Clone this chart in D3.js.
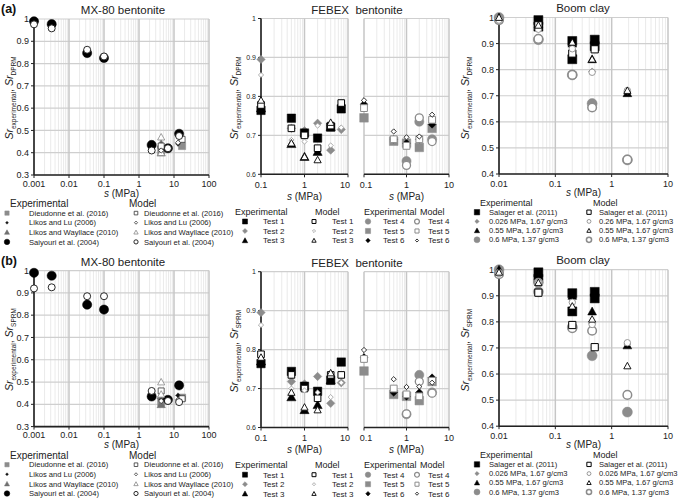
<!DOCTYPE html>
<html><head><meta charset="utf-8">
<script src="https://cdn.jsdelivr.net/npm/d3@7"></script>
<style>body{margin:0;background:#fff}svg{display:block;font-family:"Liberation Sans",Arial,sans-serif}</style>
</head><body><svg id="c" width="685" height="499"></svg>
<script>
// ===== MX-80 bentonite =====
const mxSaiyouriS = [0.001, 0.0032, 0.033, 0.1, 2.3, 6.7, 14];
const mxSaiyouriExp = [0.99, 0.977, 0.847, 0.825, 0.435, 0.42, 0.485];
const mxSaiyouriDPRM = [0.976, 0.958, 0.862, 0.832, 0.41, 0.42, 0.475];
const mxSaiyouriSPRM = [0.92, 0.925, 0.885, 0.885, 0.46, 0.415, 0.41];
const mxDieudonneS = [4.3, 17];
const mxDieudonneExp = [0.41, 0.43];
const mxDieudonneDPRM = [0.43, 0.46];
const mxDieudonneSPRM = [0.46, 0.425];
const mxLikosLuS = [4.3, 13];
const mxLikosLuExp = [0.42, 0.44];
const mxLikosLuDPRM = [0.41, 0.445];
const mxLikosLuSPRM = [0.415, 0.42];
const mxLikosWayllaceS = [4.3, 4.3];
const mxLikosWayllaceExp = [0.40, 0.44];
const mxLikosWayllaceDPRM = [0.47, 0.40];
const mxLikosWayllaceSPRM = [0.50, 0.445];

// ===== FEBEX bentonite (Tests 1-3, left) =====
const fbT1S = [0.1, 0.5, 1, 2, 4, 7];
const fbT1Exp = [0.764, 0.744, 0.706, 0.693, 0.721, 0.768];
const fbT1DPRM = [0.778, 0.718, 0.70, 0.667, 0.725, 0.783];
const fbT1SPRM = [0.788, 0.735, 0.70, 0.675, 0.735, 0.735];
const fbT2S = [0.1, 0.5, 1, 2, 4, 7];
const fbT2Exp = [0.895, 0.718, 0.712, 0.731, 0.662, 0.715];
const fbT2DPRM = [0.855, 0.688, 0.684, 0.725, 0.674, 0.72];
const fbT2SPRM = [0.863, 0.70, 0.695, 0.69, 0.678, 0.715];
const fbT3S = [0.1, 0.5, 1, 2, 4];
const fbT3Exp = [0.77, 0.678, 0.645, 0.658, 0.722];
const fbT3DPRM = [0.79, 0.68, 0.645, 0.637, 0.733];
const fbT3SPRM = [0.78, 0.69, 0.652, 0.645, 0.74];
// ===== FEBEX bentonite (Tests 4-6, right) =====
const fbT4S = [1, 2, 4];
const fbT4Exp = [0.634, 0.735, 0.69];
const fbT4DPRM = [0.623, 0.745, 0.684];
const fbT4SPRM = [0.635, 0.718, 0.688];
const fbT5S = [0.1, 0.5, 1, 2, 4];
const fbT5Exp = [0.745, 0.685, 0.68, 0.669, 0.718];
const fbT5DPRM = [0.77, 0.69, 0.673, 0.69, 0.74];
const fbT5SPRM = [0.776, 0.70, 0.685, 0.68, 0.72];
const fbT6S = [0.1, 0.5, 1, 2, 4];
const fbT6Exp = [0.78, 0.69, 0.68, 0.69, 0.728];
const fbT6DPRM = [0.79, 0.71, 0.695, 0.697, 0.753];
const fbT6SPRM = [0.799, 0.724, 0.704, 0.705, 0.715];

// ===== Boom clay =====
const bcSalagerS = [0.05, 0.05, 0.2, 0.2, 0.5, 0.5];
const bcSalagerExp = [0.99, 0.965, 0.91, 0.84, 0.915, 0.89];
const bcSalagerDPRM = [0.97, null, 0.862, null, 0.878, null];
const bcSalagerSPRM = [0.912, null, 0.788, null, 0.703, null];
const bc026S = [0.01, 0.05, 0.2, 0.45, 1.9];
const bc026Exp = [1.0, 0.965, 0.89, 0.793, 0.715];
const bc026DPRM = [0.99, 0.955, 0.88, 0.79, 0.72];
const bc026SPRM = [0.985, 0.95, 0.875, 0.79, 0.72];
const bc055S = [0.01, 0.05, 0.2, 0.45, 1.9];
const bc055Exp = [1.0, 0.975, 0.9, 0.84, 0.71];
const bc055DPRM = [1.0, 0.97, 0.905, 0.84, 0.72];
const bc055SPRM = [0.99, 0.95, 0.86, 0.81, 0.631];
const bc06S = [0.01, 0.05, 0.2, 0.45, 1.9];
const bc06Exp = [1.0, 0.915, 0.78, 0.67, 0.454];
const bc06DPRM = [0.99, 0.918, 0.78, 0.655, 0.455];
const bc06SPRM = [0.983, 0.95, 0.776, 0.766, 0.52];

// ===== labels =====
const mxXTicks = [0.001, 0.01, 0.1, 1, 10, 100];
const mxXTickLabels = ["0.001", "0.01", "0.1", "1", "10", "100"];
const mxYTicks = [0.3, 0.4, 0.5, 0.6, 0.7, 0.8, 0.9, 1];
const fbXTicks = [0.1, 1, 10];
const fbXTickLabels = ["0.1", "1", "10"];
const fbYTicks = [0.6, 0.7, 0.8, 0.9, 1];
const bcXTicks = [0.01, 0.1, 1, 10];
const bcXTickLabels = ["0.01", "0.1", "1", "10"];
const bcYTicks = [0.4, 0.5, 0.6, 0.7, 0.8, 0.9, 1];
const mxLegendNames = ["Dieudonne et al. (2016)", "Likos and Lu (2006)", "Likos and Wayllace (2010)", "Saiyouri et al. (2004)"];
const fbLegendA = ["Test 1", "Test 2", "Test 3"];
const fbLegendB = ["Test 4", "Test 5", "Test 6"];
const bcLegendExp = ["Salager et al. (2011)", "0.026 MPa, 1.67 g/cm3", "0.55 MPa, 1.67 g/cm3", "0.6 MPa, 1.37 g/cm3"];
const bcLegendModelA = ["Salager et al. (2011)", "0.26 MPa, 1.67 g/cm3", "0.55 MPa, 1.67 g/cm3", "0.6 MPa, 1.37 g/cm3"];
const bcLegendModelB = ["Salager et al. (2011)", "0.026 MPa, 1.67 g/cm3", "0.55 MPa, 1.67 g/cm3", "0.6 MPa, 1.37 g/cm3"];

const svg = d3.select("#c");
const GREY = "#8c8c8c";

function shapePath(type, h) {
  if (type === "circle") return `M${h},0A${h},${h} 0 1,1 ${-h},0A${h},${h} 0 1,1 ${h},0Z`;
  if (type === "square") return `M${-h},${-h}H${h}V${h}H${-h}Z`;
  if (type === "triangle") return `M0,${-h}L${h},${h*0.8}L${-h},${h*0.8}Z`;
  if (type === "diamond") return `M0,${-h}L${h},0L0,${h}L${-h},0Z`;
  if (type === "plus") return `M0,${-h}L${h*0.45},${-h*0.45}L${h},0L${h*0.45},${h*0.45}L0,${h}L${-h*0.45},${h*0.45}L${-h},0L${-h*0.45},${-h*0.45}Z`;
}
const ST = {
  mxDieExp: {t:"square", h:3.6, fill:GREY, stroke:GREY, sw:0.5},
  mxDieMod: {t:"square", h:3, fill:"#fff", stroke:"#333", sw:0.8},
  mxLuExp: {t:"plus", h:2.6, fill:"#111", stroke:"#111", sw:0.3},
  mxLuMod: {t:"diamond", h:2.6, fill:"#fff", stroke:"#333", sw:0.8},
  mxWayExp: {t:"triangle", h:4.2, fill:"#707070", stroke:"#707070", sw:0.5},
  mxWayMod: {t:"triangle", h:3.6, fill:"#fff", stroke:"#888", sw:0.8},
  mxSaiExp: {t:"circle", h:4.6, fill:"#000", stroke:"#000", sw:0.5},
  mxSaiMod: {t:"circle", h:3.5, fill:"#fff", stroke:"#111", sw:0.9},
  t1Exp: {t:"square", h:4.2, fill:"#000", stroke:"#000", sw:0.5},
  t1Mod: {t:"square", h:3.3, fill:"#fff", stroke:"#000", sw:1},
  t2Exp: {t:"diamond", h:4.2, fill:GREY, stroke:GREY, sw:0.5},
  t2Mod: {t:"diamond", h:2.6, fill:"#fff", stroke:"#999", sw:0.8},
  t3Exp: {t:"triangle", h:4.6, fill:"#000", stroke:"#000", sw:0.5},
  t3Mod: {t:"triangle", h:3.6, fill:"#fff", stroke:"#000", sw:0.9},
  t4Exp: {t:"circle", h:4.6, fill:GREY, stroke:GREY, sw:0.5},
  t4Mod: {t:"circle", h:4, fill:"#fff", stroke:GREY, sw:1.3},
  t5Exp: {t:"square", h:4.3, fill:GREY, stroke:GREY, sw:0.5},
  t5Mod: {t:"square", h:3.4, fill:"#fff", stroke:GREY, sw:1},
  t6Exp: {t:"diamond", h:3.8, fill:"#000", stroke:"#000", sw:0.5},
  t6Mod: {t:"diamond", h:2.6, fill:"#fff", stroke:"#000", sw:0.8},
  bcSalExp: {t:"square", h:4.5, fill:"#000", stroke:"#000", sw:0.5},
  bcSalMod: {t:"square", h:3.6, fill:"#fff", stroke:"#000", sw:1},
  bc026Exp: {t:"diamond", h:3.6, fill:GREY, stroke:GREY, sw:0.5},
  bc026Mod: {t:"circle", h:3.2, fill:"#fff", stroke:GREY, sw:0.9},
  bc055Exp: {t:"triangle", h:4.4, fill:"#000", stroke:"#000", sw:0.5},
  bc055Mod: {t:"triangle", h:3.6, fill:"#fff", stroke:"#000", sw:0.9},
  bc06Exp: {t:"circle", h:5, fill:GREY, stroke:GREY, sw:0.5},
  bc06Mod: {t:"circle", h:4.3, fill:"#fff", stroke:GREY, sw:1.5},
};
function drawMarker(g, st, x, y) {
  g.append("path").attr("d", shapePath(st.t, st.h)).attr("transform", `translate(${x},${y})`)
   .attr("fill", st.fill).attr("stroke", st.stroke).attr("stroke-width", st.sw);
}

function makePanel(o) {
  const x = d3.scaleLog().domain(o.xd).range(o.xr);
  const y = d3.scaleLinear().domain(o.yd).range(o.yr);
  const g = svg.append("g");
  const lo = Math.log10(o.xd[0]), hi = Math.log10(o.xd[1]);
  for (let e = lo; e < hi; e++) for (let k = 2; k <= 9; k++) {
    const v = k * Math.pow(10, e);
    g.append("line").attr("x1", x(v)).attr("x2", x(v)).attr("y1", o.yr[0]).attr("y2", o.yr[1])
     .attr("stroke", "#e4e4e4").attr("stroke-width", 0.8);
  }
  o.yt.forEach(v => g.append("line").attr("x1", o.xr[0]).attr("x2", o.xr[1]).attr("y1", y(v)).attr("y2", y(v))
     .attr("stroke", "#cfcfcf").attr("stroke-width", 1.2));
  for (let e = lo; e <= hi; e++) {
    const v = Math.pow(10, e);
    g.append("line").attr("x1", x(v)).attr("x2", x(v)).attr("y1", o.yr[0]).attr("y2", o.yr[1])
     .attr("stroke", "#c6c6c6").attr("stroke-width", 1.5);
  }
  g.append("line").attr("x1", o.xr[0]).attr("x2", o.xr[1]).attr("y1", o.yr[0]).attr("y2", o.yr[0])
   .attr("stroke", "#222").attr("stroke-width", 1.6);
  if (o.yAxis) {
    g.append("line").attr("x1", o.xr[0]).attr("x2", o.xr[0]).attr("y1", o.yr[0]).attr("y2", o.yr[1])
     .attr("stroke", "#222").attr("stroke-width", 1.6);
    o.yt.forEach(v => g.append("line").attr("x1", o.xr[0]-3).attr("x2", o.xr[0]).attr("y1", y(v)).attr("y2", y(v))
     .attr("stroke", "#222").attr("stroke-width", 1));
    o.yt.forEach(v => g.append("text").attr("x", o.xr[0]-5).attr("y", y(v)).attr("dy", "0.35em")
     .attr("text-anchor", "end").attr("font-size", o.yfs).attr("fill", "#222").text(d3.format("~g")(v)));
  }
  for (let e = lo; e <= hi; e++) {
    const v = Math.pow(10, e);
    g.append("line").attr("x1", x(v)).attr("x2", x(v)).attr("y1", o.yr[0]).attr("y2", o.yr[0]+3)
     .attr("stroke", "#222").attr("stroke-width", 1);
  }
  o.xt.forEach((v, i) => g.append("text").attr("x", x(v) + (o.xtOff ? o.xtOff[i] : 0)).attr("y", o.yr[0]+o.xtY)
     .attr("text-anchor", "middle").attr("font-size", o.xfs).attr("fill", "#222").text(o.xl[i]));
  g.append("text").attr("x", (o.xr[0]+o.xr[1])/2).attr("y", o.yr[0]+o.xtitleY).attr("text-anchor", "middle")
   .attr("font-size", o.xtfs || 10).attr("fill", "#222")
   .html('<tspan font-style="italic">s</tspan> (MPa)');
  o.series.forEach(s => s.s.forEach((sv, i) => {
    const v = s.v[i]; if (v == null) return;
    drawMarker(g, ST[s.st], x(sv), y(v));
  }));
  return g;
}

function yLabel(x, yc, fs, sub2) {
  const t = svg.append("text").attr("transform", `translate(${x},${yc}) rotate(-90)`)
    .attr("text-anchor", "middle").attr("font-size", fs).attr("fill", "#222");
  t.append("tspan").attr("font-style", "italic").text("Sr");
  t.append("tspan").attr("font-size", fs*0.62).attr("dy", fs*0.25).text("experimental");
  t.append("tspan").attr("dy", -fs*0.25).text(", ");
  t.append("tspan").attr("font-style", "italic").text("Sr");
  t.append("tspan").attr("font-size", fs*0.62).attr("dy", fs*0.25).text(sub2);
}
function title(x, y, txt) {
  svg.append("text").attr("x", x).attr("y", y).attr("text-anchor", "middle").attr("font-size", 11.5)
     .attr("fill", "#222").style("white-space", "pre").text(txt);
}
function legendCol(x, y, header, hfs, items, styles, mx, tx, dy, fs) {
  svg.append("text").attr("x", x).attr("y", y).attr("dy", "0.35em").attr("font-size", hfs).attr("fill", "#222").text(header);
  items.forEach((t, i) => {
    const yy = y + (i+1)*dy;
    drawMarker(svg, Object.assign({}, ST[styles[i]], {h: ST[styles[i]].h*0.6}), mx, yy);
    svg.append("text").attr("x", tx).attr("y", yy).attr("dy", "0.35em").attr("font-size", fs).attr("fill", "#222").text(t);
  });
}

function row(b) {
  const dy = b ? 251.6 : 0, dyF = b ? 253.2 : 0, dyB = b ? 252.2 : 0;
  const M = b ? "SPRM" : "DPRM";
  svg.append("text").attr("x", 1).attr("y", 13 + dy).attr("font-size", 12.5).attr("font-weight", "bold").attr("fill", "#111").text(b ? "(b)" : "(a)");
  // MX-80
  title(123, 14 + dy, "MX-80 bentonite");
  makePanel({xd:[0.001,100], xr:[34,209], yd:[0.3,1], yr:[175+dy, 19+dy], yt:mxYTicks, yAxis:true, yfs:9,
    xt:mxXTicks, xl:mxXTickLabels, xfs:9, xtfs:10, xtY:11.5, xtitleY:21.5,
    series:[
      {s:mxDieudonneS, v:mxDieudonneExp, st:"mxDieExp"},
      {s:mxLikosWayllaceS, v:mxLikosWayllaceExp, st:"mxWayExp"},
      {s:mxSaiyouriS, v:mxSaiyouriExp, st:"mxSaiExp"},
      {s:mxLikosLuS, v:mxLikosLuExp, st:"mxLuExp"},
      {s:mxDieudonneS, v:b?mxDieudonneSPRM:mxDieudonneDPRM, st:"mxDieMod"},
      {s:mxLikosWayllaceS, v:b?mxLikosWayllaceSPRM:mxLikosWayllaceDPRM, st:"mxWayMod"},
      {s:mxLikosLuS, v:b?mxLikosLuSPRM:mxLikosLuDPRM, st:"mxLuMod"},
      {s:mxSaiyouriS, v:b?mxSaiyouriSPRM:mxSaiyouriDPRM, st:"mxSaiMod"},
    ]});
  yLabel(13, 98 + dy, 10.5, M);
  legendCol(10, 203.5+dy, "Experimental", 10, mxLegendNames, ["mxDieExp","mxLuExp","mxWayExp","mxSaiExp"], 7, 29, 9.6, 7.6);
  legendCol(129, 203.5+dy, "Model", 10, mxLegendNames, ["mxDieMod","mxLuMod","mxWayMod","mxSaiMod"], 136, 144, 9.6, 7.6);

  // FEBEX
  title(357, 14 + dyF, "FEBEX  bentonite");
  makePanel({xd:[0.1,10], xr:[261,348], yd:[0.6,1], yr:[174.3+dyF, 18.5+dyF], yt:fbYTicks, yAxis:true, yfs:7,
    xt:fbXTicks, xl:fbXTickLabels, xfs:9, xtfs:10, xtOff:[0,0,-3], xtY:13.5, xtitleY:25.5,
    series:[
      {s:fbT2S, v:fbT2Exp, st:"t2Exp"},
      {s:fbT1S, v:fbT1Exp, st:"t1Exp"},
      {s:fbT3S, v:fbT3Exp, st:"t3Exp"},
      {s:fbT1S, v:b?fbT1SPRM:fbT1DPRM, st:"t1Mod"},
      {s:fbT2S, v:b?fbT2SPRM:fbT2DPRM, st:"t2Mod"},
      {s:fbT3S, v:b?fbT3SPRM:fbT3DPRM, st:"t3Mod"},
    ]});
  makePanel({xd:[0.1,10], xr:[364,449], yd:[0.6,1], yr:[174.3+dyF, 18.5+dyF], yt:fbYTicks, yAxis:false,
    xt:fbXTicks, xl:fbXTickLabels, xfs:9, xtfs:10, xtOff:[2,0,0], xtY:13.5, xtitleY:25.5,
    series:[
      {s:fbT4S, v:fbT4Exp, st:"t4Exp"},
      {s:fbT5S, v:fbT5Exp, st:"t5Exp"},
      {s:fbT6S, v:fbT6Exp, st:"t6Exp"},
      {s:fbT4S, v:b?fbT4SPRM:fbT4DPRM, st:"t4Mod"},
      {s:fbT5S, v:b?fbT5SPRM:fbT5DPRM, st:"t5Mod"},
      {s:fbT6S, v:b?fbT6SPRM:fbT6DPRM, st:"t6Mod"},
    ]});
  yLabel(238, 98 + dyF, 10.5, M);
  legendCol(235, 212+dyF, "Experimental", 9, fbLegendA, ["t1Exp","t2Exp","t3Exp"], 245, 263, 9.5, 8);
  legendCol(315, 212+dyF, "Model", 9, fbLegendA, ["t1Mod","t2Mod","t3Mod"], 314, 332, 9.5, 8);
  legendCol(364, 212+dyF, "Experimental", 9, fbLegendB, ["t4Exp","t5Exp","t6Exp"], 368, 383, 9.5, 8);
  legendCol(420, 212+dyF, "Model", 9, fbLegendB, ["t4Mod","t5Mod","t6Mod"], 417, 428, 9.5, 8);

  // Boom clay
  title(583, 12 + dyB, "Boom clay");
  makePanel({xd:[0.01,10], xr:[499,668], yd:[0.4,1], yr:[174+dyB, 17.5+dyB], yt:bcYTicks, yAxis:true, yfs:9,
    xt:bcXTicks, xl:bcXTickLabels, xfs:9, xtfs:10, xtY:12.5, xtitleY:22,
    series:[
      {s:bc06S, v:bc06Exp, st:"bc06Exp"},
      {s:bc026S, v:bc026Exp, st:"bc026Exp"},
      {s:bc055S, v:bc055Exp, st:"bc055Exp"},
      {s:bcSalagerS, v:bcSalagerExp, st:"bcSalExp"},
      {s:bc06S, v:b?bc06SPRM:bc06DPRM, st:"bc06Mod"},
      {s:bcSalagerS, v:b?bcSalagerSPRM:bcSalagerDPRM, st:"bcSalMod"},
      {s:bc026S, v:b?bc026SPRM:bc026DPRM, st:"bc026Mod"},
      {s:bc055S, v:b?bc055SPRM:bc055DPRM, st:"bc055Mod"},
    ]});
  yLabel(469, 98 + dyB, 10.5, M);
  legendCol(480, 203+dyB, "Experimental", 9, bcLegendExp, ["bcSalExp","bc026Exp","bc055Exp","bc06Exp"], 477, 489, 9.2, 7.6);
  legendCol(593, 203+dyB, "Model", 9, b ? bcLegendModelB : bcLegendModelA, ["bcSalMod","bc026Mod","bc055Mod","bc06Mod"], 589, 599, 9.2, 7.6);
}
row(false);
row(true);
</script></body></html>
